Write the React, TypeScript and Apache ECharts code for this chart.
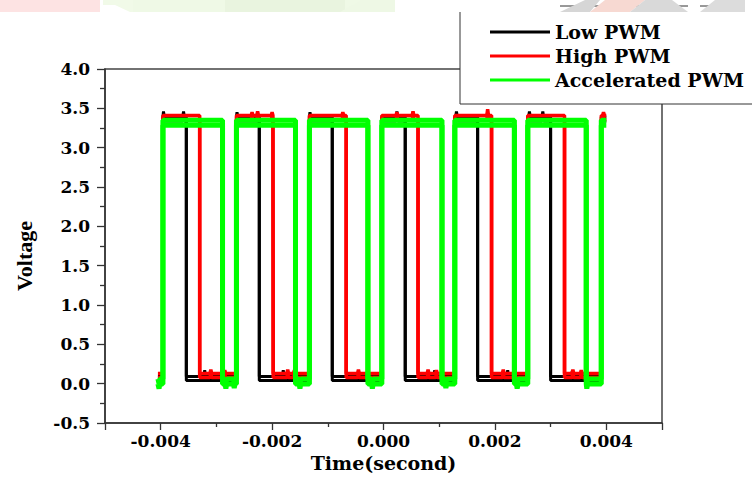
import React, { useEffect, useRef } from "react";
import * as echarts from "echarts";

// ---- data ----
const seriesNames = ["Low PWM", "High PWM", "Accelerated PWM"];
const timeSpan = [-0.00405, 0.004]; // first and last sample (s)

// common rising edges of all three PWM signals (s)
const riseTimes = [-0.00396, -0.00264, -0.00133, -0.00003, 0.00128, 0.00259, 0.00391];
// falling edges (s)
const lowFall = [-0.00354, -0.00223, -0.00092, 0.00039, 0.00169, 0.003];
const highFall = [-0.0033, -0.00198, -0.00067, 0.00062, 0.00194, 0.00325];
const accFall = [-0.00289, -0.00158, -0.00028, 0.00105, 0.00235, 0.00364];

// [high, low] voltage levels
const lowLevels = [3.39, 0.09];
const highLevels = [3.41, 0.13];
const accLevels = [3.35, 0.06];

// short noise spikes [time, voltage]
const lowSpikes = [
  [-0.00395, 3.46], [-0.00359, 3.46], [-0.00321, 0.17], [-0.00263, 3.45],
  [-0.0018, 0.17], [-0.00132, 3.45], [0.00024, 3.46], [0.00092, 0.17],
  [0.00131, 3.46], [0.00223, 0.17], [0.00262, 3.46], [0.00286, 3.46], [0.00339, 0.16],
];
const highSpikes = [
  [-0.0031, 0.18], [-0.00285, 0.17], [-0.00236, 3.45], [-0.00226, 3.46],
  [-0.002, 3.45], [-0.00172, 0.18], [-0.0016, 0.17], [-0.00073, 3.45],
  [-0.00045, 0.18], [0.00024, 3.45], [0.00053, 3.46], [0.0008, 0.18],
  [0.00095, 0.17], [0.00187, 3.49], [0.00215, 0.18], [0.0034, 0.18],
  [0.00355, 0.17], [0.00395, 3.45],
];
const accSpikes = [
  [-0.00403, 0.0], [-0.00283, 0.0], [-0.00268, 0.01], [-0.0015, 0.0],
  [-0.0002, 0.0], [0.00112, 0.01], [0.0024, 0.0], [0.00365, 0.0],
];

const xTickLabelsDecimals = 3;
const yTickLabelsDecimals = 1;

const SPIKE_HALF = 0.000015;

function trace(rises: number[], falls: number[], levels: number[], spikes: number[][]) {
  const [hi, lo] = levels;
  type Ev = { t: number; kind: "edge" | "spike"; to?: number; v?: number };
  const ev: Ev[] = [];
  rises.forEach((t) => ev.push({ t, kind: "edge", to: hi }));
  falls.forEach((t) => ev.push({ t, kind: "edge", to: lo }));
  spikes.forEach(([t, v]) => ev.push({ t, kind: "spike", v }));
  ev.sort((a, b) => a.t - b.t);
  let lvl = lo;
  const pts: number[][] = [[timeSpan[0], lvl]];
  for (const e of ev) {
    if (e.kind === "edge") {
      pts.push([e.t, lvl], [e.t, e.to as number]);
      lvl = e.to as number;
    } else {
      pts.push([e.t - SPIKE_HALF, lvl], [e.t, e.v as number], [e.t + SPIKE_HALF, lvl]);
    }
  }
  pts.push([timeSpan[1], lvl]);
  return pts;
}

const FONT = "DejaVu Serif";

export default function App() {
  const ref = useRef<HTMLDivElement>(null);
  useEffect(() => {
    if (!ref.current) return;
    const chart = echarts.init(ref.current, undefined, { renderer: "svg" });
    const mk = (name: string, data: number[][], color: string, width: number, shadow: number) => ({
      name,
      type: "line",
      data,
      symbol: "none",
      showSymbol: false,
      silent: true,
      clip: true,
      emphasis: { disabled: true },
      itemStyle: { color },
      lineStyle: { color, width, shadowColor: color, shadowOffsetY: shadow, shadowBlur: 0 },
    });
    chart.setOption({
      animation: false,
      backgroundColor: "#fff",
      grid: {
        left: 105,
        right: 90,
        top: 69,
        bottom: 66,
        show: true,
        borderColor: "#444",
        borderWidth: 1.5,
        containLabel: false,
        outerBoundsMode: "none",
      },
      legend: {
        orient: "vertical",
        left: 460,
        top: 10,
        z: 10,
        itemWidth: 60,
        itemHeight: 3,
        icon: "rect",
        itemGap: 4,
        padding: [12, 0, 14, 30],
        borderWidth: 0,
        selectedMode: false,
        data: seriesNames,
        textStyle: { fontFamily: FONT, fontWeight: "bold", fontSize: 19, color: "#000", lineHeight: 20 },
      },
      xAxis: {
        type: "value",
        min: -0.005,
        max: 0.005,
        splitNumber: 5,
        name: "Time(second)",
        nameLocation: "middle",
        nameGap: 27,
        nameTextStyle: { fontFamily: FONT, fontWeight: "bold", fontSize: 19, color: "#000" },
        axisLine: { show: true, onZero: false, lineStyle: { color: "#333", width: 1.5 } },
        axisTick: { show: true, length: 7, lineStyle: { color: "#333", width: 1.3 } },
        minorTick: { show: true, splitNumber: 2, length: 4, lineStyle: { color: "#333", width: 1.3 } },
        splitLine: { show: false },
        axisLabel: {
          margin: 9,
          showMinLabel: false,
          showMaxLabel: false,
          fontFamily: FONT,
          fontWeight: "bold",
          fontSize: 17,
          color: "#000",
          formatter: (v: number) => v.toFixed(xTickLabelsDecimals),
        },
      },
      yAxis: {
        type: "value",
        min: -0.5,
        max: 4.0,
        interval: 0.5,
        axisLine: { show: true, onZero: false, lineStyle: { color: "#333", width: 1.5 } },
        axisTick: { show: true, length: 8, lineStyle: { color: "#333", width: 1.3 } },
        minorTick: { show: true, splitNumber: 2, length: 5, lineStyle: { color: "#333", width: 1.3 } },
        splitLine: { show: false },
        axisLabel: {
          margin: 15,
          fontFamily: FONT,
          fontWeight: "bold",
          fontSize: 17,
          color: "#000",
          formatter: (v: number) => v.toFixed(yTickLabelsDecimals),
        },
      },
      graphic: [
        // legend frame (runs off the right edge of the picture)
        {
          type: "rect",
          z: 8,
          shape: { x: 460, y: 6, width: 320, height: 98 },
          style: { fill: "#fff", stroke: "#333", lineWidth: 1 },
        },
        {
          type: "text",
          x: 24,
          y: 256,
          rotation: Math.PI / 2,
          style: {
            text: "Voltage",
            fontFamily: "Liberation Serif",
            fontWeight: "bold",
            fontSize: 22,
            fill: "#000",
            align: "center",
            verticalAlign: "middle",
          },
        },
        // faint watermark strip at the top of the image
        { type: "rect", z: 100, shape: { x: 0, y: 0, width: 100, height: 12 }, style: { fill: "#fde3e3" } },
        { type: "polygon", z: 100, shape: { points: [[103, 0], [225, 0], [225, 12], [130, 12], [115, 5], [103, 5]] }, style: { fill: "#f1fae8" } },
        { type: "rect", z: 100, shape: { x: 133, y: 0, width: 262, height: 12 }, style: { fill: "#eff9e6" } },
        { type: "rect", z: 100, shape: { x: 225, y: 0, width: 120, height: 12 }, style: { fill: "#e9f4df" } },
        { type: "polygon", z: 100, shape: { points: [[340, 12], [362, 0], [395, 0], [395, 12]] }, style: { fill: "#eef8e5" } },
        { type: "rect", z: 100, shape: { x: 440, y: 0, width: 120, height: 12 }, style: { fill: "#ffffff" } },
        { type: "polygon", z: 100, shape: { points: [[560, 12], [585, 0], [600, 0], [590, 12]] }, style: { fill: "#d6d6d6" } },
        { type: "polygon", z: 100, shape: { points: [[590, 12], [605, 0], [645, 0], [630, 12]] }, style: { fill: "#f7d9d2" } },
        { type: "polygon", z: 100, shape: { points: [[630, 12], [645, 0], [672, 0], [688, 12]] }, style: { fill: "#d9d9d9" } },
        { type: "rect", z: 100, shape: { x: 688, y: 0, width: 12, height: 12 }, style: { fill: "#ffffff" } },
        { type: "polygon", z: 100, shape: { points: [[700, 12], [715, 0], [745, 0], [745, 12]] }, style: { fill: "#dcdcdc" } },
        { type: "rect", z: 100, shape: { x: 745, y: 0, width: 7, height: 12 }, style: { fill: "#ffffff" } },
      ],
      series: [
        mk(seriesNames[0], trace(riseTimes, lowFall, lowLevels, lowSpikes), "#000000", 3, 4),
        mk(seriesNames[1], trace(riseTimes, highFall, highLevels, highSpikes), "#ff0000", 3.5, 4),
        mk(seriesNames[2], trace(riseTimes, accFall, accLevels, accSpikes), "#00ff00", 5, 5),
      ],
    });
    return () => chart.dispose();
  }, []);
  return <div ref={ref} style={{ position: "fixed", left: 0, top: 0, width: 752, height: 489 }} />;
}
